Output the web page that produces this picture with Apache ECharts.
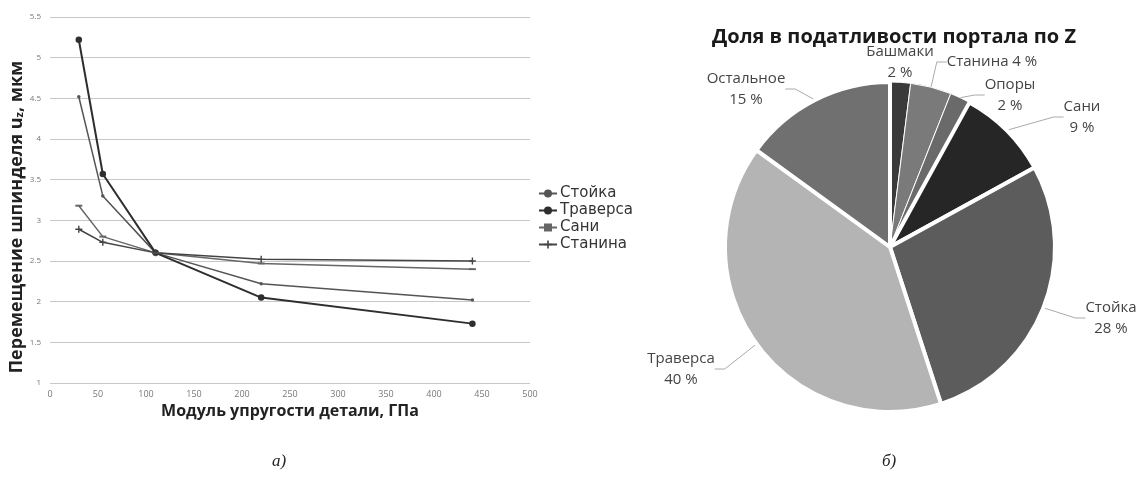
<!DOCTYPE html>
<html><head><meta charset="utf-8">
<script src="https://cdn.jsdelivr.net/npm/echarts@6/dist/echarts.min.js"></script>
<style>html,body{margin:0;padding:0;background:#fff}#c{width:1144px;height:479px}</style>
</head><body><div id="c"></div>
<script>
// ---- data ----
const modulus = [30, 55, 110, 220, 440];
const seriesNames = ['Стойка', 'Траверса', 'Сани', 'Станина'];
const stoyka   = [4.52, 3.30, 2.60, 2.22, 2.02];
const traversa = [5.22, 3.57, 2.60, 2.05, 1.73];
const sani     = [3.18, 2.80, 2.60, 2.47, 2.40];
const stanina  = [2.89, 2.73, 2.60, 2.52, 2.50];
const yTicks = [1, 1.5, 2, 2.5, 3, 3.5, 4, 4.5, 5, 5.5];
const xTicks = [0, 50, 100, 150, 200, 250, 300, 350, 400, 450, 500];
const pieNames  = ['Башмаки', 'Станина', 'Опоры', 'Сани', 'Стойка', 'Траверса', 'Остальное'];
const pieValues = [2, 4, 2, 9, 28, 40, 15];
const pieTitle = 'Доля в податливости портала по Z';

// ---- styles ----
const lineColors = ['#555555', '#2e2e2e', '#666666', '#444444'];
const plus = 'path://M4,0H6V4H10V6H6V10H4V6H0V4H4Z';
const symbols = ['circle', 'circle', 'rect', plus];
const symbolSizes = [3.5, 6.5, [7, 2], 7];
const pieColors = ['#3a3a3a', '#7a7a7a', '#6a6a6a', '#262626', '#5c5c5c', '#b4b4b4', '#707070'];
const pieBorders = [1, 1, 1, 4, 4, 4, 4];
const labelPos = {
  'Башмаки':  [900, 62],
  'Станина':  [992, 62],
  'Опоры':    [1010, 95],
  'Сани':     [1082, 117],
  'Стойка':   [1111, 318],
  'Траверса': [681, 369],
  'Остальное':[746, 89]
};
const rows = [stoyka, traversa, sani, stanina];

const chart = echarts.init(document.getElementById('c'));
const font = 'Open Sans';
chart.setOption({
  animation: false,
  textStyle: { fontFamily: font },
  grid: { left: 50, right: 614, top: 17, bottom: 96 },
  legend: {
    orient: 'vertical', left: 533, top: 181, itemGap: 2, itemWidth: 18, itemHeight: 10,
    textStyle: { fontSize: 15, color: '#333', fontFamily: 'DejaVu Sans', padding: [0, 0, 0, -2] },
    data: seriesNames
  },
  xAxis: {
    type: 'value', min: xTicks[0], max: xTicks[xTicks.length - 1], interval: 50,
    axisLine: { show: false }, axisTick: { show: false }, splitLine: { show: false },
    axisLabel: { fontSize: 9, color: '#777', margin: 7 },
    name: 'Модуль упругости детали, ГПа', nameLocation: 'middle', nameGap: 16,
    nameTextStyle: { fontSize: 16, fontWeight: 'bold', color: '#222', fontFamily: font }
  },
  yAxis: {
    type: 'value', min: yTicks[0], max: yTicks[yTicks.length - 1], interval: 0.5,
    axisLine: { show: false }, axisTick: { show: false },
    splitLine: { lineStyle: { color: '#c8c8c8', width: 1 } },
    axisLabel: { fontSize: 8, color: '#777', margin: 9 },
    name: 'Перемещение шпинделя u{s|z}, мкм', nameLocation: 'middle', nameGap: 23,
    nameTextStyle: { fontSize: 18, fontWeight: 'bold', color: '#222', fontFamily: font,
      padding: [0, 34, 0, 0],
      rich: { s: { fontSize: 11, fontWeight: 'bold', color: '#222', verticalAlign: 'bottom' } } }
  },
  title: {
    text: pieTitle, left: 889, top: 22, textAlign: 'center',
    textStyle: { fontSize: 20, fontWeight: 'bold', color: '#1a1a1a', fontFamily: font }
  },
  graphic: [
    { type: 'text', x: 279, y: 462, style: { text: 'а)', font: 'italic 17px "Liberation Serif"', fill: '#222', textAlign: 'center', textVerticalAlign: 'middle' } },
    { type: 'text', x: 889, y: 462, style: { text: 'б)', font: 'italic 17px "Liberation Serif"', fill: '#222', textAlign: 'center', textVerticalAlign: 'middle' } }
  ],
  series: seriesNames.map((n, i) => ({
    name: n, type: 'line',
    data: modulus.map((x, j) => [x, rows[i][j]]),
    symbol: symbols[i], symbolSize: symbolSizes[i], showSymbol: true,
    lineStyle: { color: lineColors[i], width: i === 1 ? 2 : 1.5 },
    itemStyle: { color: lineColors[i] }
  })).concat([{
    type: 'pie', center: [890, 247], radius: 165, startAngle: 90, clockwise: true,
    data: pieNames.map((n, i) => ({ name: n, value: pieValues[i],
      itemStyle: { color: pieColors[i], borderColor: '#fff', borderWidth: pieBorders[i] } })),
    label: {
      formatter: p => p.name === 'Станина' ? p.name + ' ' + p.value + ' %' : p.name + '\n' + p.value + ' %',
      fontSize: 15, color: '#444', lineHeight: 21, align: 'center', fontFamily: font
    },
    labelLine: { show: true, lineStyle: { color: '#aaa', width: 1 }, length: 10, length2: 10 },
    labelLayout: p => {
      const pos = labelPos[pieNames[p.dataIndex]];
      return { x: pos[0], y: pos[1], align: 'center', verticalAlign: 'middle' };
    }
  }])
});
</script></body></html>
